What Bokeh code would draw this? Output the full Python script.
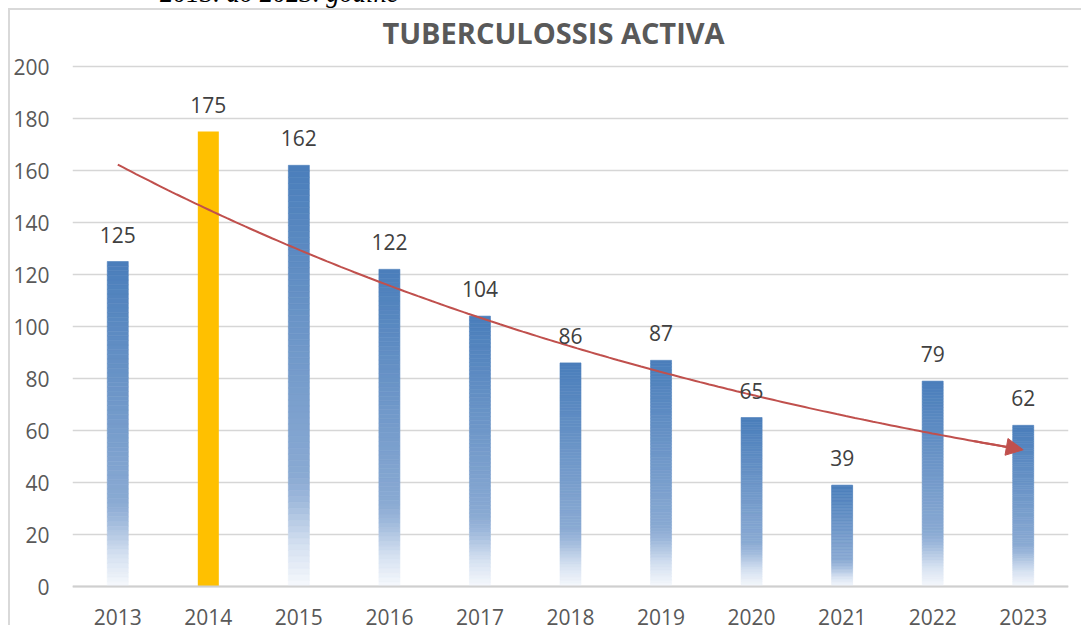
import numpy as np
from bokeh.plotting import figure
from bokeh.models import Range1d, FixedTicker, Span, Arrow, NormalHead, Div
from bokeh.layouts import column
from bokeh.core.properties import value
from bokeh.embed import file_html
from bokeh.resources import INLINE

# ---- data ----
years = ["2013", "2014", "2015", "2016", "2017", "2018", "2019", "2020", "2021", "2022", "2023"]
cases = [125, 175, 162, 122, 104, 86, 87, 65, 39, 79, 62]
highlight_year = "2014"
y_ticks = [0, 20, 40, 60, 80, 100, 120, 140, 160, 180, 200]
title_text = "TUBERCULOSSIS ACTIVA"
subtitle_text = "2013. do 2023. godine"

# ---- styles ----
FONT = "Open Sans"
TXT_GRAY = "#595959"
LBL_GRAY = "#404040"
GRID = "#D6D6D6"
RED = "#C0504D"
YELLOW = "#FFC000"
STOPS = [(0.0, (246, 249, 253)), (0.10, (212, 224, 240)), (0.20, (160, 186, 220)),
         (0.26, (138, 170, 211)), (1.0, (74, 126, 187))]
BAR_W = 0.232
NSLICE = 70


def grad(f):
    for (f0, c0), (f1, c1) in zip(STOPS[:-1], STOPS[1:]):
        if f <= f1:
            t = (f - f0) / (f1 - f0)
            c = [round(a + (b - a) * t) for a, b in zip(c0, c1)]
            return "#%02x%02x%02x" % tuple(c)
    return "#%02x%02x%02x" % STOPS[-1][1]


W, H = 1073, 617
px_per_unit = 520 / 200.0
top_gap_px = 56      # canvas pixels above the top gridline
y_hi = max(y_ticks) + top_gap_px / px_per_unit
y_lo = -(H - top_gap_px - 520) / px_per_unit

p = figure(width=W, height=H, output_backend="svg", toolbar_location=None, title=None,
           x_range=Range1d(-0.5, len(years) - 0.5), y_range=Range1d(y_lo, y_hi),
           x_axis_location=None, min_border_left=62, min_border_right=15,
           min_border_top=0, min_border_bottom=0, margin=(0, 0, 0, 8),
           styles={"border-left": "2px solid #D9D9D9", "border-top": "2px solid #D9D9D9"})
p.outline_line_color = None
p.xgrid.visible = False
p.ygrid.grid_line_color = GRID
p.ygrid.grid_line_width = 1.5
p.yaxis.ticker = FixedTicker(ticks=y_ticks)
p.yaxis.axis_line_color = None
p.yaxis.major_tick_line_color = None
p.yaxis.minor_tick_line_color = None
p.yaxis.major_label_standoff = 17
p.yaxis.major_label_text_font = FONT
p.yaxis.major_label_text_font_size = "21px"
p.yaxis.major_label_text_color = TXT_GRAY

idx = list(range(len(years)))

# gradient bars (sliced)
gx, gb, gt, gc = [], [], [], []
for i, (yr, v) in enumerate(zip(years, cases)):
    if yr == highlight_year:
        continue
    for k in range(NSLICE):
        gx.append(i)
        gb.append(v * k / NSLICE)
        gt.append(v * (k + 1) / NSLICE)
        gc.append(grad((k + 0.5) / NSLICE))
p.vbar(x=gx, bottom=gb, top=gt, width=BAR_W, fill_color=gc, line_color=gc, line_width=0.6)

hx = [i for i, yr in enumerate(years) if yr == highlight_year]
hv = [v for yr, v in zip(years, cases) if yr == highlight_year]
p.vbar(x=hx, top=hv, width=BAR_W, fill_color=YELLOW, line_color=None)

# baseline
p.add_layout(Span(location=0, dimension="width", line_color="#CFCFCF", line_width=2))

# exponential trendline
xs_num = np.arange(1, len(cases) + 1)
b, a = np.polyfit(xs_num, np.log(cases), 1)
tx = np.linspace(0, len(cases) - 1, 200)
ty = np.exp(a + b * (tx + 1))
p.line(tx[:-3], ty[:-3], line_color=RED, line_width=2)
p.add_layout(Arrow(end=NormalHead(size=17, fill_color=RED, line_color=RED, line_width=1),
                   x_start=tx[-12], y_start=ty[-12], x_end=tx[-1], y_end=ty[-1],
                   line_color=RED, line_width=2))

# data labels
p.text(x=idx, y=cases, text=[str(v) for v in cases], text_align="center",
       text_baseline="alphabetic", y_offset=-27, text_font=value(FONT),
       text_font_size="21px", text_color=LBL_GRAY)

# category labels
p.text(x=idx, y=[0] * len(idx), text=years, text_align="center",
       text_baseline="alphabetic", y_offset=30, text_font=value(FONT),
       text_font_size="21px", text_color=TXT_GRAY)

# chart title (placed relative to the top gridline)
p.text(x=[(len(years) - 1) / 2], y=[max(y_ticks)], text=[title_text], text_align="center",
       text_baseline="alphabetic", x_offset=-17, y_offset=-34, text_font=value(FONT),
       text_font_style="bold", text_font_size="29px", text_color=TXT_GRAY)

sub = Div(text=subtitle_text, width=330, height=28, margin=(-20, 0, 0, 160),
          styles={"font-family": "Liberation Serif", "font-style": "italic",
                  "font-size": "26.6px", "line-height": "26px", "color": "#000000",
                  "white-space": "nowrap"})

layout = column(sub, p, spacing=0)
open("out.html", "w").write(file_html(layout, INLINE))
